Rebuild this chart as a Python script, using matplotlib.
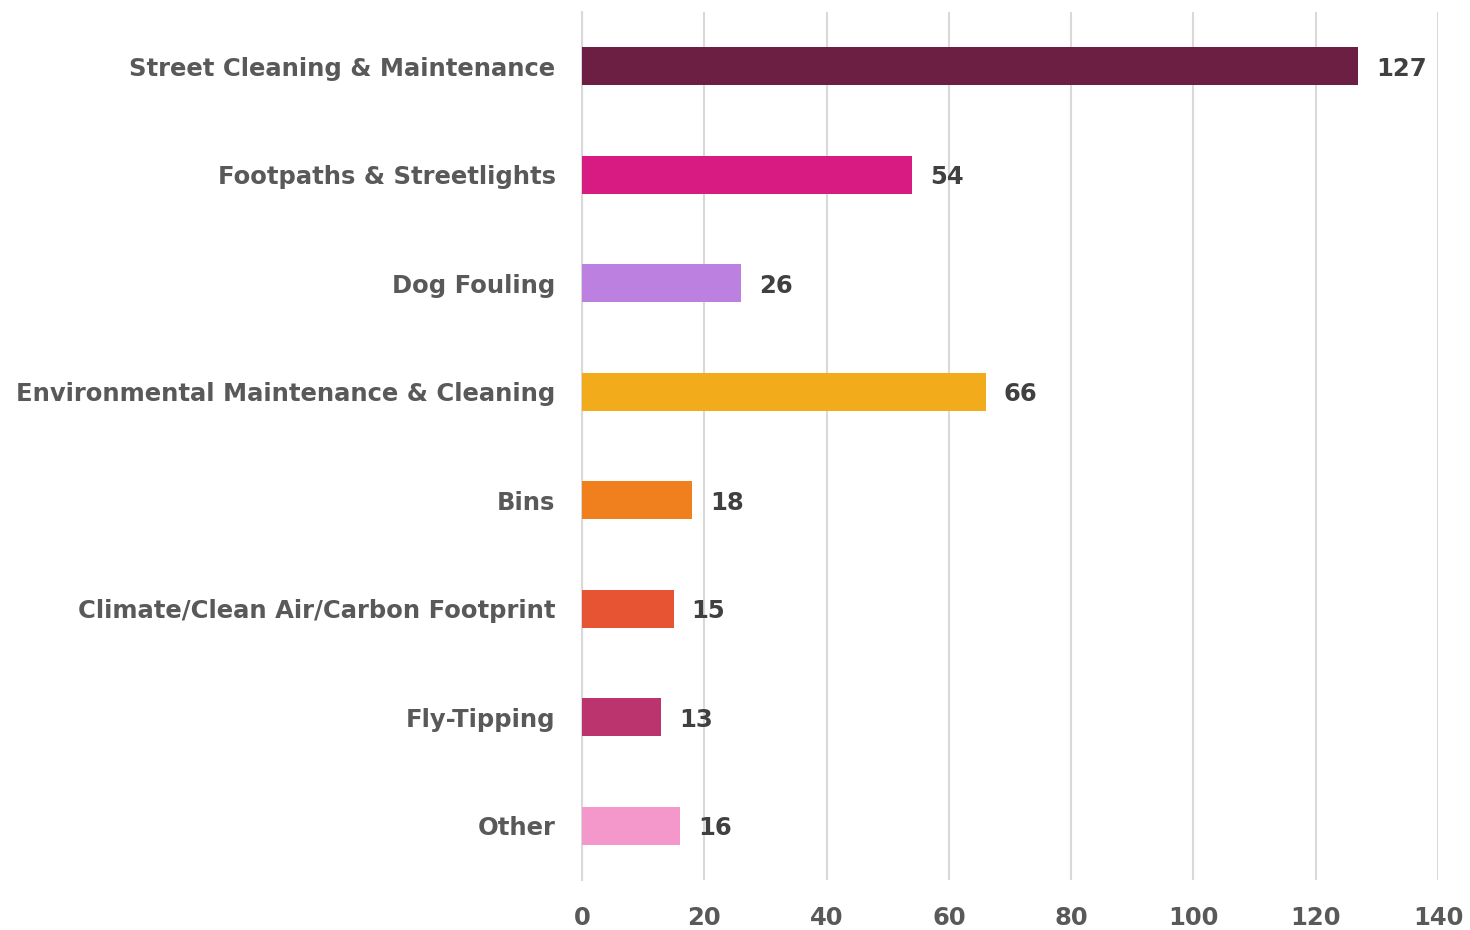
import matplotlib
matplotlib.use("Agg")
import matplotlib.pyplot as plt

# data (top to bottom)
categories = ["Street Cleaning & Maintenance", "Footpaths & Streetlights", "Dog Fouling",
              "Environmental Maintenance & Cleaning", "Bins", "Climate/Clean Air/Carbon Footprint",
              "Fly-Tipping", "Other"]
values = [127, 54, 26, 66, 18, 15, 13, 16]
colors = ["#6D1F43", "#D81B83", "#BC80E0", "#F1AB1B", "#F07F1D", "#E65433", "#BB346D", "#F497CA"]
xticks = [0, 20, 40, 60, 80, 100, 120, 140]

plt.rcParams['font.family'] = ['DejaVu Sans']

fig = plt.figure(figsize=(14.7, 9.3), dpi=100)
ax = fig.add_axes([0.3959, 0.0538, 0.5823, 0.9333])

pos = list(range(len(categories)))
ax.barh(pos, values, height=0.35, color=colors, zorder=3)
for p, v in zip(pos, values):
    ax.annotate(str(v), (v, p), xytext=(18, 0), textcoords='offset pixels',
                va='center_baseline', ha='left', fontsize=17.5, fontweight='bold', color='#404040')

ax.set_ylim(len(categories) - 0.5, -0.5)
ax.set_xlim(0, 140)
ax.set_xticks(xticks)
ax.set_yticks(pos)
ax.set_yticklabels(categories, fontsize=17.5, fontweight='bold', color='#595959')
ax.tick_params(axis='x', labelsize=17.5, labelcolor='#595959', length=0, pad=19)
ax.tick_params(axis='y', length=0, pad=19)
for lbl in ax.get_xticklabels():
    lbl.set_fontweight('bold')
ax.grid(axis='x', color='#D9D9D9', linewidth=1.5, zorder=0)
for s in ['top', 'right', 'bottom']:
    ax.spines[s].set_visible(False)
ax.spines['left'].set_color('#D9D9D9')
ax.spines['left'].set_linewidth(1.5)

fig.savefig("out.png", dpi=100)
